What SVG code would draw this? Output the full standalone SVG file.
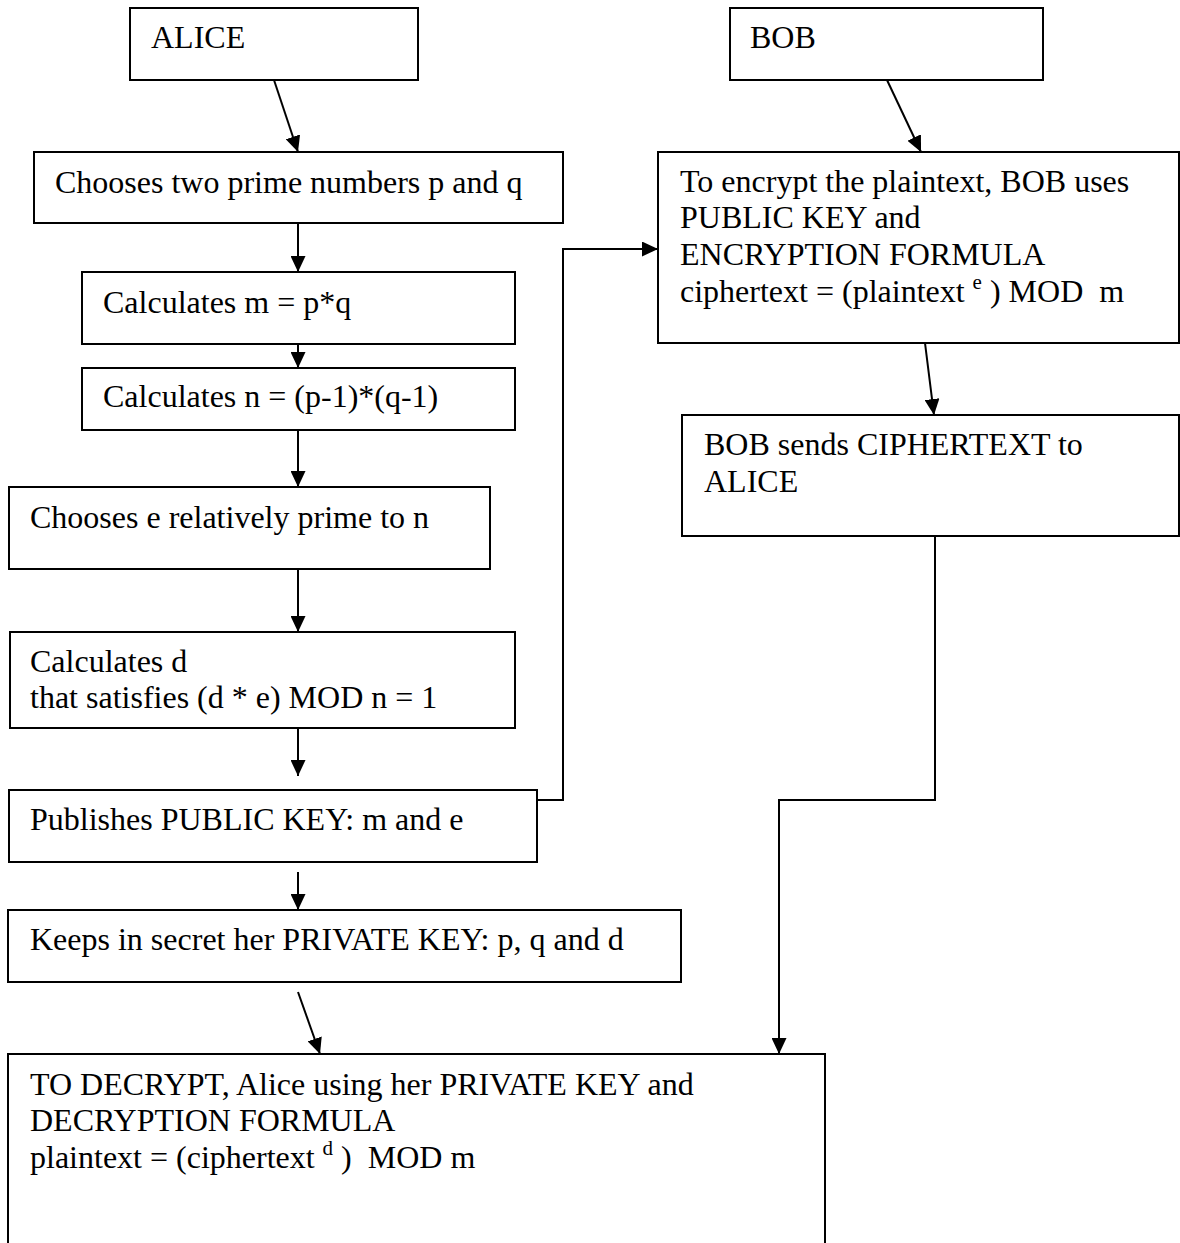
<svg xmlns="http://www.w3.org/2000/svg" width="1180" height="1243" viewBox="0 0 1180 1243">
<style>
.box{fill:#fff;stroke:#000;stroke-width:2}
.t{font-family:"Liberation Serif","Times New Roman",serif;font-size:32px;fill:#000}
.sup{font-size:21px}
.c{fill:none;stroke:#000;stroke-width:2}
</style>
<defs>
<marker id="ah" markerWidth="16" markerHeight="15" refX="16" refY="7.5" orient="auto" markerUnits="userSpaceOnUse">
<path d="M0,0 L16,7.5 L0,15 z" fill="#000"/>
</marker>
</defs>
<rect width="1180" height="1243" fill="#fff"/>
<g id="alice"><rect class="box" x="130" y="8" width="288" height="72"/><text class="t" x="151" y="48">ALICE</text></g>
<g id="bob"><rect class="box" x="730" y="8" width="313" height="72"/><text class="t" x="750" y="48">BOB</text></g>
<g id="choose-primes"><rect class="box" x="34" y="152" width="529" height="71"/><text class="t" x="55" y="193">Chooses two prime numbers p and q</text></g>
<g id="encrypt"><rect class="box" x="658" y="152" width="521" height="191"/>
<text class="t" x="680" y="192">To encrypt the plaintext, BOB uses</text>
<text class="t" x="680" y="228">PUBLIC KEY and</text>
<text class="t" x="680" y="265">ENCRYPTION FORMULA</text>
<text class="t" x="680" y="302" xml:space="preserve">ciphertext = (plaintext <tspan class="sup" dy="-13">e</tspan><tspan dy="13"> ) MOD  m</tspan></text></g>
<g id="calc-m"><rect class="box" x="82" y="272" width="433" height="72"/><text class="t" x="103" y="313">Calculates m = p*q</text></g>
<g id="calc-n"><rect class="box" x="82" y="368" width="433" height="62"/><text class="t" x="103" y="407">Calculates n = (p-1)*(q-1)</text></g>
<g id="bob-sends"><rect class="box" x="682" y="415" width="497" height="121"/>
<text class="t" x="704" y="455">BOB sends CIPHERTEXT to</text>
<text class="t" x="704" y="492">ALICE</text></g>
<g id="choose-e"><rect class="box" x="9" y="487" width="481" height="82"/><text class="t" x="30" y="528">Chooses e relatively prime to n</text></g>
<g id="calc-d"><rect class="box" x="10" y="632" width="505" height="96"/>
<text class="t" x="30" y="672">Calculates d</text>
<text class="t" x="30" y="708">that satisfies (d * e) MOD n = 1</text></g>
<g id="publish"><rect class="box" x="9" y="790" width="528" height="72"/><text class="t" x="30" y="830">Publishes PUBLIC KEY: m and e</text></g>
<g id="keep"><rect class="box" x="8" y="910" width="673" height="72"/><text class="t" x="30" y="950">Keeps in secret her PRIVATE KEY: p, q and d</text></g>
<g id="decrypt"><rect class="box" x="8" y="1054" width="817" height="210"/>
<text class="t" x="30" y="1095">TO DECRYPT, Alice using her PRIVATE KEY and</text>
<text class="t" x="30" y="1131">DECRYPTION FORMULA</text>
<text class="t" x="30" y="1168" xml:space="preserve">plaintext = (ciphertext <tspan class="sup" dy="-13">d</tspan><tspan dy="13"> )  MOD m</tspan></text></g>
<g id="connectors">
<path class="c" marker-end="url(#ah)" d="M274,80 L298,152"/>
<path class="c" marker-end="url(#ah)" d="M887,80 L921,152"/>
<path class="c" marker-end="url(#ah)" d="M298,223 L298,272"/>
<path class="c" marker-end="url(#ah)" d="M298,344 L298,368"/>
<path class="c" marker-end="url(#ah)" d="M298,430 L298,487"/>
<path class="c" marker-end="url(#ah)" d="M298,569 L298,632"/>
<path class="c" marker-end="url(#ah)" d="M298,728 L298,776"/>
<path class="c" marker-end="url(#ah)" d="M537,800 L563,800 L563,249 L658,249"/>
<path class="c" marker-end="url(#ah)" d="M298,872 L298,910"/>
<path class="c" marker-end="url(#ah)" d="M298,992 L320,1054"/>
<path class="c" marker-end="url(#ah)" d="M925,343 L934,415"/>
<path class="c" marker-end="url(#ah)" d="M935,536 L935,800 L779,800 L779,1054"/>
</g>
</svg>
